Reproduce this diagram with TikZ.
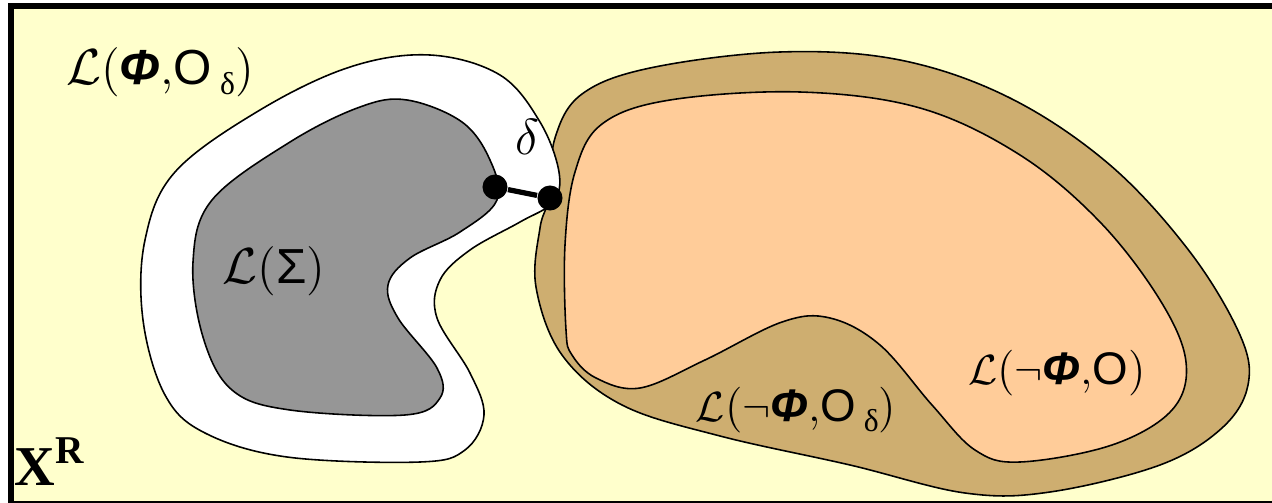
\documentclass[tikz,border=0pt]{standalone}
\usepackage{fontspec}
\newfontfamily\grkfont{Liberation Sans}
\newfontfamily\tmsfont{Liberation Serif}
\definecolor{raumgelb}{RGB}{255,255,204}
\definecolor{sigmagrau}{RGB}{150,150,150}
\definecolor{phiorange}{RGB}{255,204,153}
\definecolor{phibraun}{RGB}{206,174,112}
\newcommand{\Lcal}{$\mathcal{L}$}
\newcommand{\subd}{\raisebox{-0.5ex}{\fontsize{9}{9}\selectfont\tmsfont δ}}
\newcommand{\Phib}{{\grkfont\bfseries\itshape Φ}}
\begin{document}
\begin{tikzpicture}[x=0.01cm,y=-0.01cm,
	rand/.style={draw=black, line width=0.45pt},
	punkt/.style={circle, fill=black, inner sep=0pt, minimum size=0.25cm},
	lab/.style={font=\fontsize{14}{16}\selectfont, inner sep=0pt}]
	\useasboundingbox (0,0) rectangle (1272,503);
	\clip (0,0) rectangle (1272,503);
	
	% Raum X^R
	\fill[raumgelb] (11,6) rectangle (1290,504);
	\draw[line width=0.06cm] (11,6) rectangle (1290,504);
	
	% L(-Phi,O_delta)
	\draw[rand, fill=phibraun] plot[smooth cycle, tension=0.6] coordinates {
		(549,197) (555,138) (582,94) (650,68) (780,52) (900,60) (1010,98)
		(1110,165) (1190,252) (1240,335) (1248,385) (1222,428) (1160,465)
		(1050,492) (965,493) (850,465) (720,436) (622,405) (562,355)
		(536,287) (540,228)};
	
	% L(-Phi,O)
	\draw[rand, fill=phiorange] plot[smooth cycle, tension=0.6] coordinates {
		(566,330) (565,245) (575,172) (602,124) (670,100) (800,92) (920,108)
		(1020,155) (1100,222) (1160,300) (1186,362) (1172,410) (1112,445)
		(1020,462) (975,450) (932,405) (880,345) (830,318) (782,322)
		(705,360) (640,388) (596,378) (572,355)};
	
	% L(Phi,O_delta)
	\draw[rand, fill=white] plot[smooth cycle, tension=0.6] coordinates {
		(430,55) (500,75) (540,122) (559,172) (553,202) (520,222)
		(470,250) (440,280) (437,318) (470,373) (484,415) (465,450)
		(420,462) (287,457) (205,433) (165,395) (143,320) (145,240)
		(175,172) (260,110) (350,67)};
	
	% L(Sigma)
	\draw[rand, fill=sigmagrau] plot[smooth cycle, tension=0.6] coordinates {
		(407,100) (462,122) (490,160) (497,200) (460,232) (410,258)
		(388,285) (398,318) (437,368) (440,398) (405,415) (290,410)
		(232,390) (203,337) (193,262) (212,200) (290,142) (360,107)};
	
	% Abstand delta
	\node[punkt] (sigpkt) at (495,187) {};
	\node[punkt] (phipkt) at (550,198) {};
	\draw[line width=1.5pt] (sigpkt) -- (phipkt);
	\node[lab] (dlab) at (527,137) {$\delta$};
	
	% Beschriftungen
	\node[lab] (phiOd) at (160,72) {\Lcal(\Phib,{\grkfont O}\,\subd)};
	\node[lab] (sig) at (274,271) {\Lcal({\grkfont Σ})};
	\node[lab, font=\fontsize{13}{15}\selectfont] (nphiO) at (1057,373) {\Lcal($\neg$\Phib,{\grkfont O})};
	\node[lab, font=\fontsize{13}{15}\selectfont] (nphiOd) at (796,410) {\Lcal($\neg$\Phib,{\grkfont O}\,\subd)};
	\node[lab, font=\fontsize{16}{18}\selectfont\tmsfont\bfseries] (xr) at (50,462) {X\textsuperscript{R}};
\end{tikzpicture}
\end{document}
